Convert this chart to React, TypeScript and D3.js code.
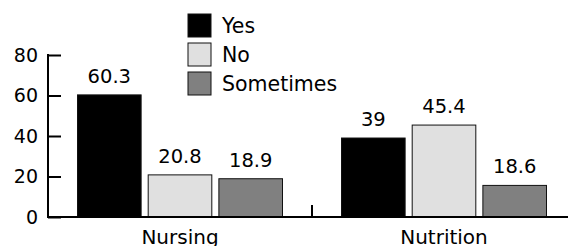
import React, { useEffect, useRef } from "react";
import * as d3 from "d3";

const groups = ["Nursing", "Nutrition"];
const series = ["Yes", "No", "Sometimes"];
const colors = ["#000000", "#e0e0e0", "#808080"];
// bar heights as drawn, and the labels printed over them
const nursingValues = [60.3, 20.8, 18.9];
const nutritionValues = [39, 45.4, 15.6];
const nursingLabels = ["60.3", "20.8", "18.9"];
const nutritionLabels = ["39", "45.4", "18.6"];
const yTicks = [0, 20, 40, 60, 80];

const App: React.FC = () => {
  const svgRef = useRef<SVGSVGElement | null>(null);

  useEffect(() => {
    if (!svgRef.current) return;
    const width = 568;
    const height = 246;
    const font = "DejaVu Sans, sans-serif";

    const svg = d3
      .select(svgRef.current)
      .attr("width", width)
      .attr("height", height)
      .attr("viewBox", [0, 0, width, height]);

    const rows = [
      { group: groups[0], values: nursingValues, labels: nursingLabels },
      { group: groups[1], values: nutritionValues, labels: nutritionLabels },
    ];

    // Scales
    const x = d3.scaleBand().domain(groups).range([48, 576]);
    const xi = d3
      .scaleBand()
      .domain(series)
      .range([29.5, 234.5])
      .paddingInner(0.1);
    const y = d3.scaleLinear().domain([0, 80]).range([217, 55]);

    // Bars
    rows.forEach((r) => {
      const g = svg
        .append("g")
        .attr("transform", `translate(${x(r.group)},0)`);
      g.selectAll("rect")
        .data(r.values)
        .join("rect")
        .attr("x", (_, i) => xi(series[i])!)
        .attr("y", (d) => y(d))
        .attr("width", xi.bandwidth())
        .attr("height", (d) => y(0) - y(d))
        .attr("fill", (_, i) => colors[i])
        .attr("stroke", "#111")
        .attr("stroke-width", 1);
      g.selectAll("text")
        .data(r.values)
        .join("text")
        .attr("x", (_, i) => xi(series[i])! + xi.bandwidth() / 2)
        .attr("y", (d) => y(d) - 12)
        .attr("text-anchor", "middle")
        .attr("font-family", font)
        .attr("font-size", 19.5)
        .text((_, i) => r.labels[i]);
    });

    // Y axis
    const gy = svg
      .append("g")
      .attr("transform", `translate(48,0)`)
      .call(d3.axisRight(y).tickValues(yTicks).tickSize(13).tickFormat(d3.format("d")));
    gy.select(".domain").remove();
    gy.selectAll(".tick line").attr("stroke", "#000").attr("stroke-width", 2);
    gy.selectAll(".tick text")
      .attr("x", -10)
      .attr("text-anchor", "end")
      .attr("font-family", font)
      .attr("font-size", 19)
      .attr("fill", "#000");
    svg
      .append("line")
      .attr("x1", 48)
      .attr("x2", 48)
      .attr("y1", y(80) - 1)
      .attr("y2", y(0))
      .attr("stroke", "#000")
      .attr("stroke-width", 2);

    // X axis
    svg
      .append("line")
      .attr("x1", 47)
      .attr("x2", width)
      .attr("y1", y(0))
      .attr("y2", y(0))
      .attr("stroke", "#000")
      .attr("stroke-width", 2);
    svg
      .append("line")
      .attr("x1", x(groups[1])!)
      .attr("x2", x(groups[1])!)
      .attr("y1", y(0))
      .attr("y2", y(0) - 12)
      .attr("stroke", "#000")
      .attr("stroke-width", 2);
    svg
      .append("g")
      .selectAll("text")
      .data(groups)
      .join("text")
      .attr("x", (d) => x(d)! + 132)
      .attr("y", 244)
      .attr("text-anchor", "middle")
      .attr("font-family", font)
      .attr("font-size", 20)
      .text((d) => d);

    // Legend
    const legend = svg
      .append("g")
      .selectAll("g")
      .data(series)
      .join("g")
      .attr("transform", (_, i) => `translate(188,${14 + i * 29})`);
    legend
      .append("rect")
      .attr("width", 23)
      .attr("height", 23)
      .attr("fill", (_, i) => colors[i])
      .attr("stroke", "#111")
      .attr("stroke-width", 1);
    legend
      .append("text")
      .attr("x", 34)
      .attr("y", 19)
      .attr("font-family", font)
      .attr("font-size", 20.5)
      .text((d) => d);

    return () => {
      svg.selectAll("*").remove();
    };
  }, []);

  return (
    <svg
      ref={svgRef}
      style={{ position: "absolute", left: 0, top: 0, background: "#fff" }}
    ></svg>
  );
};

export default App;
